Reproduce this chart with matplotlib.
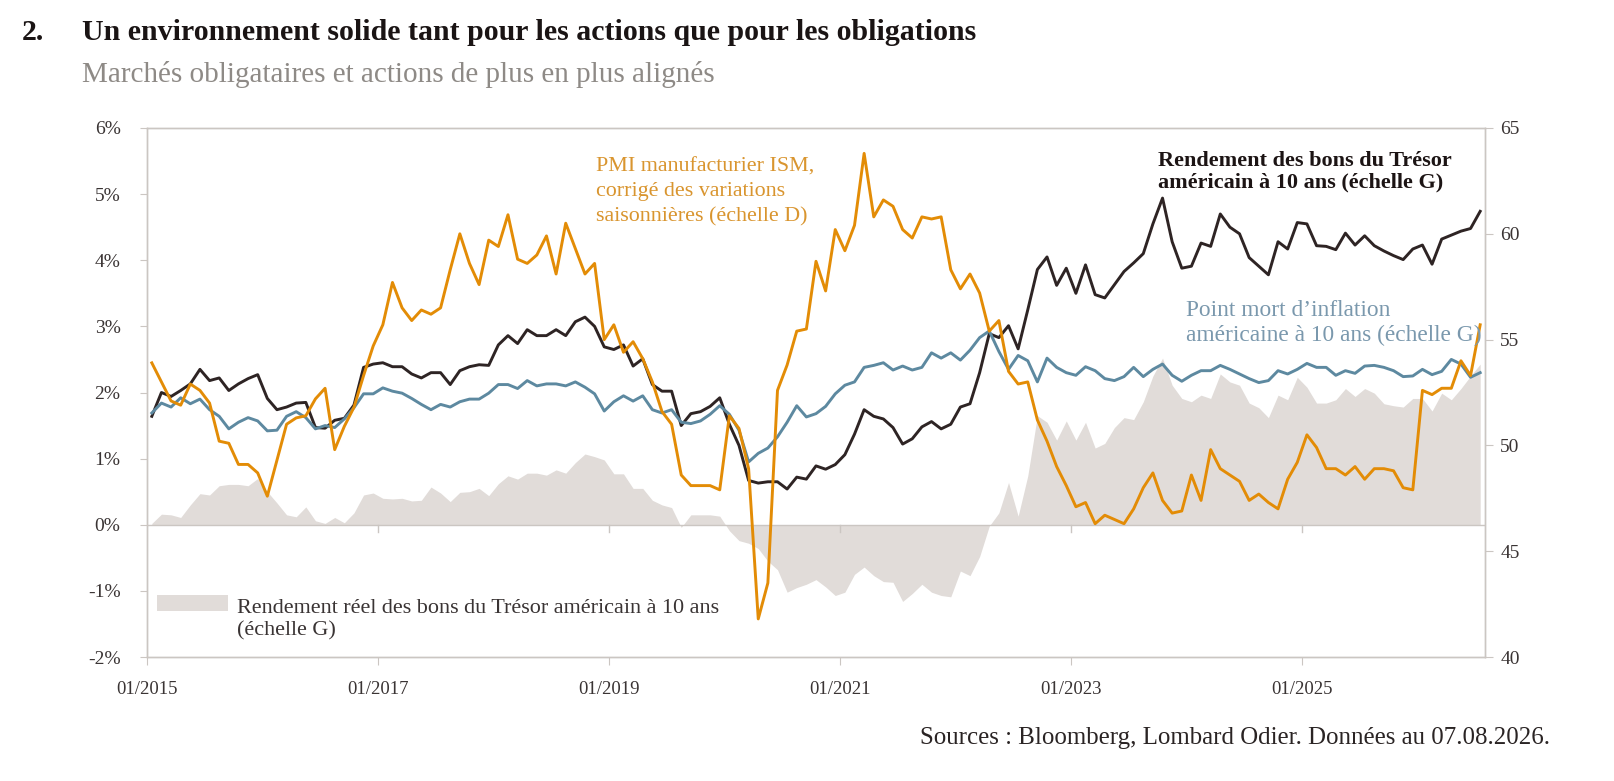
import numpy as np
import matplotlib
matplotlib.use("Agg")
import matplotlib.pyplot as plt
from matplotlib.patches import Rectangle

plt.rcParams["font.family"] = ["Liberation Serif", "DejaVu Serif"]

# monthly data, 01/2015 .. 07/2026
x_tick_labels = ["01/2015", "01/2017", "01/2019", "01/2021", "01/2023", "01/2025"]

# 10y US Treasury yield (%), left scale
yield_10y = [
    1.64, 2.00, 1.94, 2.03, 2.13, 2.35, 2.18, 2.22, 2.03, 2.13, 2.21, 2.27,
    1.91, 1.74, 1.78, 1.84, 1.85, 1.47, 1.46, 1.58, 1.61, 1.81, 2.38, 2.43,
    2.45, 2.39, 2.39, 2.28, 2.22, 2.30, 2.30, 2.12, 2.33, 2.39, 2.42, 2.41,
    2.72, 2.86, 2.74, 2.95, 2.86, 2.86, 2.95, 2.86, 3.07, 3.14, 3.00, 2.69,
    2.65, 2.72, 2.40, 2.51, 2.12, 2.02, 2.02, 1.50, 1.68, 1.71, 1.79, 1.92,
    1.52, 1.20, 0.67, 0.63, 0.65, 0.65, 0.54, 0.72, 0.69, 0.89, 0.84, 0.91,
    1.06, 1.37, 1.74, 1.64, 1.60, 1.47, 1.22, 1.30, 1.48, 1.56, 1.45, 1.52,
    1.78, 1.83, 2.30, 2.89, 2.83, 3.01, 2.66, 3.25, 3.86, 4.05, 3.62, 3.88,
    3.50, 3.93, 3.48, 3.43, 3.63, 3.83, 3.96, 4.10, 4.55, 4.94, 4.28, 3.88,
    3.91, 4.26, 4.21, 4.70, 4.50, 4.40, 4.04, 3.91, 3.78, 4.28, 4.17, 4.57,
    4.55, 4.22, 4.21, 4.16, 4.41, 4.23, 4.37, 4.22, 4.14, 4.07, 4.01, 4.17,
    4.23, 3.94, 4.32, 4.38, 4.44, 4.48, 4.74,
]

# 10y US breakeven inflation (%), left scale
breakeven_10y = [
    1.69, 1.84, 1.78, 1.92, 1.83, 1.90, 1.74, 1.64, 1.45, 1.55, 1.62, 1.57,
    1.42, 1.43, 1.64, 1.71, 1.62, 1.45, 1.50, 1.47, 1.60, 1.77, 1.98, 1.98,
    2.07, 2.02, 1.99, 1.91, 1.82, 1.74, 1.82, 1.78, 1.86, 1.90, 1.90, 1.99,
    2.12, 2.12, 2.06, 2.18, 2.10, 2.13, 2.13, 2.10, 2.16, 2.08, 1.98, 1.72,
    1.86, 1.95, 1.87, 1.95, 1.74, 1.69, 1.74, 1.55, 1.53, 1.57, 1.67, 1.80,
    1.67, 1.43, 0.95, 1.08, 1.16, 1.33, 1.55, 1.80, 1.63, 1.68, 1.79, 1.98,
    2.11, 2.16, 2.38, 2.41, 2.45, 2.34, 2.40, 2.34, 2.38, 2.60, 2.52, 2.60,
    2.49, 2.64, 2.83, 2.93, 2.62, 2.35, 2.56, 2.48, 2.16, 2.52, 2.38, 2.30,
    2.26, 2.39, 2.33, 2.21, 2.18, 2.24, 2.38, 2.24, 2.35, 2.43, 2.26, 2.17,
    2.26, 2.33, 2.33, 2.41, 2.35, 2.28, 2.21, 2.15, 2.18, 2.33, 2.28, 2.35,
    2.44, 2.38, 2.38, 2.26, 2.33, 2.29, 2.40, 2.41, 2.38, 2.33, 2.24, 2.25,
    2.35, 2.27, 2.32, 2.50, 2.43, 2.23, 2.30,
]

# 10y US real yield (%), left scale
real_yield_10y = [
    0.02, 0.16, 0.15, 0.11, 0.30, 0.47, 0.45, 0.59, 0.61, 0.61, 0.59, 0.70,
    0.50, 0.33, 0.15, 0.12, 0.27, 0.06, 0.02, 0.11, 0.03, 0.18, 0.45, 0.48,
    0.40, 0.39, 0.40, 0.36, 0.37, 0.57, 0.48, 0.35, 0.49, 0.50, 0.55, 0.44,
    0.62, 0.74, 0.69, 0.78, 0.78, 0.75, 0.83, 0.78, 0.94, 1.07, 1.03, 0.98,
    0.77, 0.77, 0.55, 0.55, 0.37, 0.30, 0.26, -0.04, 0.15, 0.15, 0.15, 0.13,
    -0.09, -0.24, -0.28, -0.36, -0.55, -0.68, -1.02, -0.95, -0.90, -0.83, -0.94, -1.07,
    -1.02, -0.75, -0.64, -0.77, -0.86, -0.87, -1.16, -1.04, -0.90, -1.02, -1.07, -1.09,
    -0.70, -0.77, -0.48, -0.02, 0.18, 0.64, 0.13, 0.74, 1.65, 1.55, 1.28, 1.57,
    1.28, 1.55, 1.16, 1.23, 1.47, 1.62, 1.59, 1.86, 2.25, 2.52, 2.11, 1.91,
    1.86, 1.96, 1.91, 2.28, 2.16, 2.11, 1.84, 1.77, 1.62, 1.96, 1.89, 2.23,
    2.08, 1.84, 1.84, 1.89, 2.06, 1.94, 2.06, 1.99, 1.83, 1.80, 1.78, 1.91,
    1.91, 1.72, 1.99, 1.89, 2.06, 2.25, 2.43,
]

# ISM manufacturing PMI, right scale
ism_pmi = [
    53.9, 53.0, 52.1, 51.9, 52.9, 52.6, 52.0, 50.2, 50.1, 49.1, 49.1, 48.7,
    47.6, 49.3, 51.0, 51.3, 51.4, 52.2, 52.7, 49.8, 50.9, 51.8, 53.3, 54.7,
    55.7, 57.7, 56.5, 55.9, 56.4, 56.2, 56.5, 58.3, 60.0, 58.6, 57.6, 59.7,
    59.4, 60.9, 58.8, 58.6, 59.0, 59.9, 58.1, 60.5, 59.3, 58.1, 58.6, 55.0,
    55.7, 54.4, 54.9, 54.1, 53.0, 51.6, 51.0, 48.6, 48.1, 48.1, 48.1, 47.9,
    51.4, 50.8, 48.9, 41.8, 43.5, 52.6, 53.8, 55.4, 55.5, 58.7, 57.3, 60.2,
    59.2, 60.4, 63.8, 60.8, 61.6, 61.3, 60.2, 59.8, 60.8, 60.7, 60.8, 58.3,
    57.4, 58.1, 57.2, 55.4, 55.9, 53.5, 52.9, 53.0, 51.2, 50.2, 49.0, 48.1,
    47.1, 47.3, 46.3, 46.7, 46.5, 46.3, 47.0, 48.0, 48.7, 47.4, 46.8, 46.9,
    48.6, 47.4, 49.8, 48.9, 48.6, 48.3, 47.4, 47.7, 47.3, 47.0, 48.4, 49.2,
    50.5, 49.9, 48.9, 48.9, 48.6, 49.0, 48.4, 48.9, 48.9, 48.8, 48.0, 47.9,
    52.6, 52.4, 52.7, 52.7, 54.0, 53.3, 55.7,
]

months = np.arange(len(yield_10y))
W, H = 1615, 781
grid_col = "#cbc6c2"
text_col = "#3a3434"

fig = plt.figure(figsize=(W / 100, H / 100), dpi=100)
ax = fig.add_axes([147 / W, 1 - 657 / H, (1485 - 147) / W, (657 - 128) / H])
ax2 = ax.twinx()

ax.fill_between(months, real_yield_10y, 0, color="#e1dcd9", lw=0, zorder=1)
ax.axhline(0, color=grid_col, lw=1, zorder=2)
ax.plot(months, yield_10y, color="#2e2424", lw=2.1, zorder=3)
ax.plot(months, breakeven_10y, color="#5d89a0", lw=2.1, zorder=3)
ax2.plot(months, ism_pmi, color="#e38c06", lw=2.1)

ax.set_xlim(-0.5, len(months) - 0.5)
ax.set_ylim(-2, 6)
ax2.set_ylim(40, 65)

xticks = np.arange(-0.5, len(months), 24)
ax.set_xticks(xticks)
ax.set_xticklabels(x_tick_labels)
# small year ticks hanging under the zero line
for t in xticks[1:]:
    ax.plot([t, t], [0, -0.11], color=grid_col, lw=1, zorder=2)

ax.set_yticks(range(-2, 7))
ax.set_yticklabels([f"{v}%" for v in range(-2, 7)])
ax2.set_yticks(range(40, 66, 5))

for a in (ax, ax2):
    for s in a.spines.values():
        s.set_color(grid_col)
        s.set_linewidth(1)
ax.tick_params(axis="x", length=6, color=grid_col, pad=11, labelsize=13.5, labelcolor=text_col)
ax.tick_params(axis="y", length=5, color=grid_col, pad=14, labelsize=14, labelcolor=text_col)
ax2.tick_params(axis="y", length=6, color=grid_col, pad=5, labelsize=14, labelcolor=text_col)

# titles
fig.text(22 / W, 1 - 33 / H, "2.", fontsize=21.5, fontweight="bold", color="#1a1414", va="center")
fig.text(82 / W, 1 - 33 / H, "Un environnement solide tant pour les actions que pour les obligations",
         fontsize=21.5, fontweight="bold", color="#1a1414", va="center")
fig.text(82 / W, 1 - 75 / H, "Marchés obligataires et actions de plus en plus alignés",
         fontsize=21, color="#8e8a86", va="center")

# annotations
fig.text(596 / W, 1 - 158 / H, "PMI manufacturier ISM,\ncorrigé des variations\nsaisonnières (échelle D)",
         fontsize=15.8, color="#d9952f", va="top", linespacing=1.38)
fig.text(1158 / W, 1 - 151 / H, "Rendement des bons du Trésor\naméricain à 10 ans (échelle G)",
         fontsize=16, fontweight="bold", color="#1c1414", va="top", linespacing=1.1)
fig.text(1186 / W, 1 - 300 / H, "Point mort d’inflation\naméricaine à 10 ans (échelle G)",
         fontsize=16.8, color="#7a98ad", va="top", linespacing=1.24)

# legend for the shaded area
fig.add_artist(Rectangle((157 / W, 1 - 611 / H), 71 / W, 16 / H, transform=fig.transFigure,
                         facecolor="#e1dcd9", edgecolor="none"))
fig.text(237 / W, 1 - 599 / H, "Rendement réel des bons du Trésor américain à 10 ans\n(échelle G)",
         fontsize=15.9, color=text_col, va="top", linespacing=1.24)

fig.text(1550 / W, 1 - 738 / H, "Sources : Bloomberg, Lombard Odier. Données au 07.08.2026.",
         fontsize=17.9, color="#2a2424", ha="right", va="center")

fig.savefig("out.png", dpi=100)
